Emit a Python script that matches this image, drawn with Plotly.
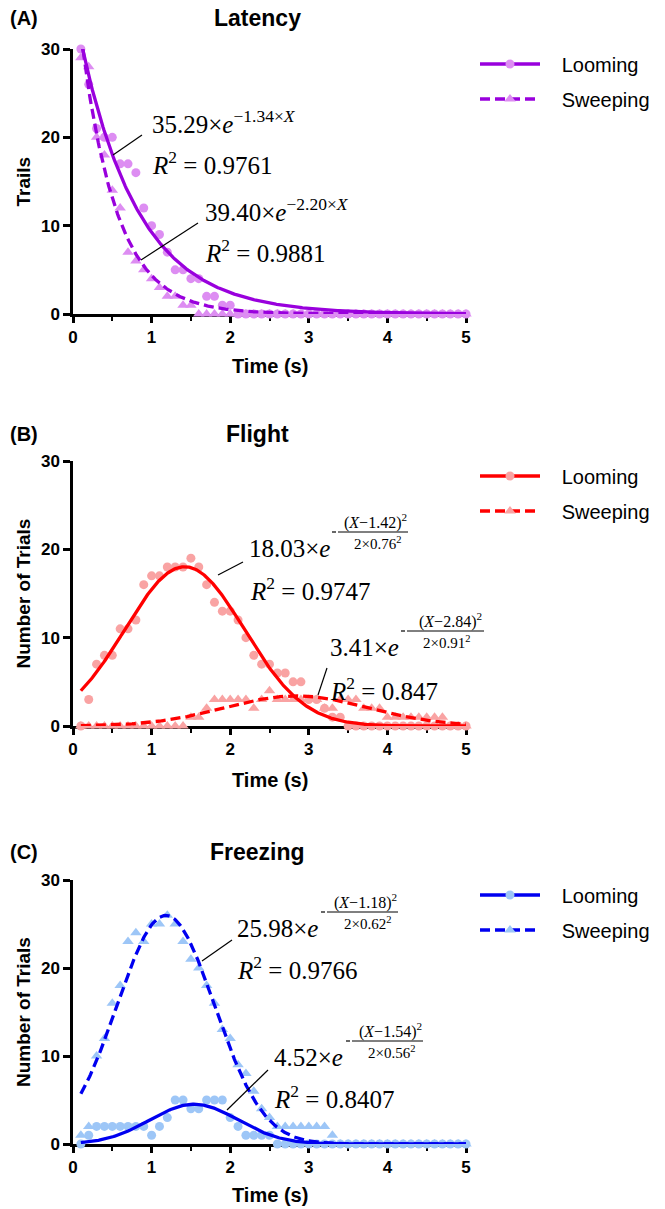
import numpy as np
import plotly.graph_objects as go

# ---------------- data ----------------
time_s = [0.1, 0.2, 0.3, 0.4, 0.5, 0.6, 0.7, 0.8, 0.9, 1.0,
          1.1, 1.2, 1.3, 1.4, 1.5, 1.6, 1.7, 1.8, 1.9, 2.0,
          2.1, 2.2, 2.3, 2.4, 2.5, 2.6, 2.7, 2.8, 2.9, 3.0,
          3.1, 3.2, 3.3, 3.4, 3.5, 3.6, 3.7, 3.8, 3.9, 4.0,
          4.1, 4.2, 4.3, 4.4, 4.5, 4.6, 4.7, 4.8, 4.9, 5.0]

latency_looming = [30, 26, 21, 20, 20, 17, 17, 16, 12, 10,
                   9, 7, 5, 5, 4, 4, 2, 2, 1, 1,
                   0, 0, 0, 0, 0, 0, 0, 0, 0, 0,
                   0, 0, 0, 0, 0, 0, 0, 0, 0, 0,
                   0, 0, 0, 0, 0, 0, 0, 0, 0, 0]
latency_sweeping = [29, 28, 20, 18, 14, 12, 7, 6, 5, 4,
                    3, 2, 2, 1, 1, 0, 0, 0, 0, 0,
                    0, 0, 0, 0, 0, 0, 0, 0, 0, 0,
                    0, 0, 0, 0, 0, 0, 0, 0, 0, 0,
                    0, 0, 0, 0, 0, 0, 0, 0, 0, 0]

flight_looming = [0, 3, 7, 8, 8, 11, 11, 12, 16, 17,
                  17, 18, 18, 18, 19, 18, 16, 14, 13, 13,
                  12, 10, 8, 7, 7, 6, 6, 5, 5, 3,
                  3, 2, 1, 1, 0, 0, 0, 0, 0, 0,
                  0, 0, 0, 0, 0, 0, 0, 0, 0, 0]
flight_sweeping = [0, 0, 0, 0, 0, 0, 0, 0, 0, 0,
                   0, 0, 0, 0, 1, 1, 2, 3, 3, 3,
                   3, 3, 2, 3, 4, 3, 3, 3, 3, 3,
                   3, 2, 2, 3, 3, 3, 2, 2, 2, 1,
                   1, 1, 1, 1, 1, 1, 1, 0, 0, 0]

freezing_looming = [0, 1, 2, 2, 2, 2, 2, 2, 2, 1,
                    2, 3, 5, 5, 4, 4, 5, 5, 5, 3,
                    2, 1, 1, 1, 1, 0, 0, 0, 0, 0,
                    0, 0, 0, 0, 0, 0, 0, 0, 0, 0,
                    0, 0, 0, 0, 0, 0, 0, 0, 0, 0]
freezing_sweeping = [1, 2, 10, 12, 16, 18, 23, 24, 23, 25,
                     25, 26, 25, 23, 21, 20, 18, 16, 13, 12,
                     9, 8, 6, 4, 3, 2, 2, 2, 2, 2,
                     2, 2, 1, 0, 0, 0, 0, 0, 0, 0,
                     0, 0, 0, 0, 0, 0, 0, 0, 0, 0]

# fitted parameters, as printed in the chart
latency_looming_fit = [35.29, 1.34]          # A, k  : A*exp(-k x)
latency_sweeping_fit = [39.40, 2.20]
flight_looming_fit = [18.03, 1.42, 0.76]     # A, mu, sigma
flight_sweeping_fit = [3.41, 2.84, 0.91]
freezing_looming_fit = [4.52, 1.54, 0.56]
freezing_sweeping_fit = [25.98, 1.18, 0.62]

x_ticks = [0, 1, 2, 3, 4, 5]
x_minor_ticks = [0.5, 1.5, 2.5, 3.5, 4.5]
y_ticks = [0, 10, 20, 30]

# ---------------- helpers ----------------
W, H = 665, 1209
def PX(x): return x / W
def PY(y): return 1 - y / H

xf = np.linspace(0.1, 5.0, 400)
def expfit(p): return p[0] * np.exp(-p[1] * xf)
def gaussfit(p): return p[0] * np.exp(-(xf - p[1]) ** 2 / (2 * p[2] ** 2))

SANS = "Liberation Sans, Arial, sans-serif"
SERIF = "Liberation Serif, Times New Roman, serif"
NB = "\u00a0"

panels = [
    dict(top=49, bottom=314, title="Latency", label="(A)", ytitle="Trails",
         loom=latency_looming, sweep=latency_sweeping,
         loom_fit=expfit(latency_looming_fit), sweep_fit=expfit(latency_sweeping_fit),
         dark="#9900DD", light="#DD8DF2", ty=18, xt=366),
    dict(top=461, bottom=726, title="Flight", label="(B)", ytitle="Number of Trials",
         loom=flight_looming, sweep=flight_sweeping,
         loom_fit=gaussfit(flight_looming_fit), sweep_fit=gaussfit(flight_sweeping_fit),
         dark="#FF0000", light="#F9A3A3", ty=434, xt=780),
    dict(top=880, bottom=1144, title="Freezing", label="(C)", ytitle="Number of Trials",
         loom=freezing_looming, sweep=freezing_sweeping,
         loom_fit=gaussfit(freezing_looming_fit), sweep_fit=gaussfit(freezing_sweeping_fit),
         dark="#0000F0", light="#9DC6F7", ty=852, xt=1195),
]

fig = go.Figure()
layout = dict(width=W, height=H, margin=dict(l=0, r=0, t=0, b=0, autoexpand=False),
              paper_bgcolor="white", plot_bgcolor="white", showlegend=True)
annotations = []
shapes = []

for i, p in enumerate(panels):
    n = "" if i == 0 else str(i + 1)
    xa, ya = "x" + n, "y" + n
    # markers
    fig.add_trace(go.Scatter(x=time_s, y=p["sweep"], mode="markers", xaxis=xa, yaxis=ya,
                             marker=dict(symbol="triangle-up", size=10, color=p["light"]),
                             cliponaxis=False, showlegend=False, hoverinfo="skip"))
    fig.add_trace(go.Scatter(x=time_s, y=p["loom"], mode="markers", xaxis=xa, yaxis=ya,
                             marker=dict(symbol="circle", size=9, color=p["light"]),
                             cliponaxis=False, showlegend=False, hoverinfo="skip"))
    # fit lines
    fig.add_trace(go.Scatter(x=xf, y=p["sweep_fit"], mode="lines", xaxis=xa, yaxis=ya,
                             line=dict(color=p["dark"], width=3.3, dash="10px,5px"),
                             showlegend=False, hoverinfo="skip"))
    fig.add_trace(go.Scatter(x=xf, y=p["loom_fit"], mode="lines", xaxis=xa, yaxis=ya,
                             line=dict(color=p["dark"], width=3.3),
                             showlegend=False, hoverinfo="skip"))
    # legend entries
    lg1 = "legend" if i == 0 else "legend" + str(2 * i + 1)
    lg2 = "legend" + str(2 * i + 2)
    fig.add_trace(go.Scatter(x=[None], y=[None], mode="lines+markers", xaxis=xa, yaxis=ya,
                             name=NB * 3 + "Looming", legend=lg1,
                             line=dict(color=p["dark"], width=3.3),
                             marker=dict(symbol="circle", size=9, color=p["light"])))
    fig.add_trace(go.Scatter(x=[None], y=[None], mode="lines+markers", xaxis=xa, yaxis=ya,
                             name=NB * 3 + "Sweeping", legend=lg2,
                             line=dict(color=p["dark"], width=3.3, dash="10px,5px"),
                             marker=dict(symbol="triangle-up", size=10, color=p["light"])))
    for lg, yy in ((lg1, p["top"] + 15), (lg2, p["top"] + 50)):
        layout[lg] = dict(x=PX(475), y=PY(yy), xanchor="left", yanchor="middle",
                          bgcolor="rgba(0,0,0,0)", borderwidth=0, itemwidth=60,
                          font=dict(family=SANS, size=20, color="black"))

    axkey = "xaxis" + n
    aykey = "yaxis" + n
    layout[axkey] = dict(domain=[PX(73), PX(466)], anchor=ya, range=[0, 5],
                         tickmode="array", tickvals=x_ticks, ticks="outside", ticklen=6,
                         tickwidth=2.5, tickcolor="black", showline=True, linecolor="black",
                         linewidth=2.5, showgrid=False, zeroline=False, layer="below traces",
                         tickfont=dict(family=SANS, size=17, color="black", weight="bold"),
                         minor=dict(tickmode="array", tickvals=x_minor_ticks, ticks="outside",
                                    ticklen=4, tickwidth=2, tickcolor="black", showgrid=False))
    layout[aykey] = dict(domain=[PY(p["bottom"]), PY(p["top"])], anchor=xa, range=[0, 30],
                         tickmode="array", tickvals=y_ticks, ticks="outside", ticklen=7,
                         tickwidth=2.5, tickcolor="black", showline=True, linecolor="black",
                         linewidth=2.5, showgrid=False, zeroline=False, layer="below traces",
                         tickfont=dict(family=SANS, size=17, color="black", weight="bold"))

    annotations.append(dict(text="<b>" + p["title"] + "</b>", x=PX(257), y=PY(p["ty"]),
                            xref="paper", yref="paper", xanchor="center", yanchor="middle",
                            showarrow=False, font=dict(family=SANS, size=23, color="black")))
    annotations.append(dict(text="<b>" + p["label"] + "</b>", x=PX(8), y=PY(p["ty"]),
                            xref="paper", yref="paper", xanchor="left", yanchor="middle",
                            showarrow=False, font=dict(family=SANS, size=20, color="black")))
    annotations.append(dict(text="<b>" + p["ytitle"] + "</b>", x=PX(23),
                            y=PY((p["top"] + p["bottom"]) / 2), textangle=-90,
                            xref="paper", yref="paper", xanchor="center", yanchor="middle",
                            showarrow=False, font=dict(family=SANS, size=19, color="black")))
    annotations.append(dict(text="<b>Time (s)</b>", x=PX(270), y=PY(p["xt"]),
                            xref="paper", yref="paper", xanchor="center", yanchor="middle",
                            showarrow=False, font=dict(family=SANS, size=20, color="black")))

def txt(s, x, y, size=25, anchor="left"):
    annotations.append(dict(text=s, x=PX(x), y=PY(y), xref="paper", yref="paper",
                            xanchor=anchor, yanchor="middle", showarrow=False,
                            font=dict(family=SERIF, size=size, color="black")))

def seg(x0, y0, x1, y1, w=1.2):
    shapes.append(dict(type="line", xref="paper", yref="paper",
                       x0=PX(x0), y0=PY(y0), x1=PX(x1), y1=PY(y1),
                       line=dict(color="black", width=w)))

def r2(v, x, y):
    txt("<i>R</i><sup>2</sup> = " + v, x, y)

def gauss_eq(a, mu, sig, x, y, bar0, bar1, numx, denx):
    txt(a + "×<i>e</i>", x, y)
    by = y - 16
    seg(bar0 - 6, by, bar0 - 2, by, w=1.2)
    seg(bar0, by, bar1, by, w=1)
    txt("(<i>X</i>−" + mu + ")<sup>2</sup>", numx, by - 11, size=16, anchor="center")
    txt("2×" + sig + "<sup>2</sup>", denx, by + 11, size=15, anchor="center")

# Panel A equations
txt("35.29×<i>e</i><sup>−1.34×<i>X</i></sup>", 150, 122)
r2("0.9761", 150, 163)
seg(113, 155, 142, 135)
txt("39.40×<i>e</i><sup>−2.20×<i>X</i></sup>", 203, 210)
r2("0.9881", 203, 251)
seg(141, 260, 198, 223)

# Panel B equations
gauss_eq("18.03", "1.42", "0.76", 247, 548, 338, 408, 375, 377)
r2("0.9747", 248, 589)
seg(218, 575, 243, 562)
gauss_eq("3.41", "2.84", "0.91", 328, 647, 407, 484, 451, 446)
r2("0.847", 328, 689)
seg(318, 695, 327, 668)

# Panel C equations
gauss_eq("25.98", "1.18", "0.62", 235, 928, 327, 398, 365, 367)
r2("0.9766", 235, 968)
seg(202, 961, 232, 940)
gauss_eq("4.52", "1.54", "0.56", 272, 1057, 352, 423, 390, 392)
r2("0.8407", 272, 1097)
seg(227, 1110, 268, 1070)

layout["annotations"] = annotations
layout["shapes"] = shapes
fig.update_layout(**layout)
fig.write_html("out.html", config={"displayModeBar": False},
               post_script="document.body.style.margin='0';document.body.style.overflow='hidden';")
